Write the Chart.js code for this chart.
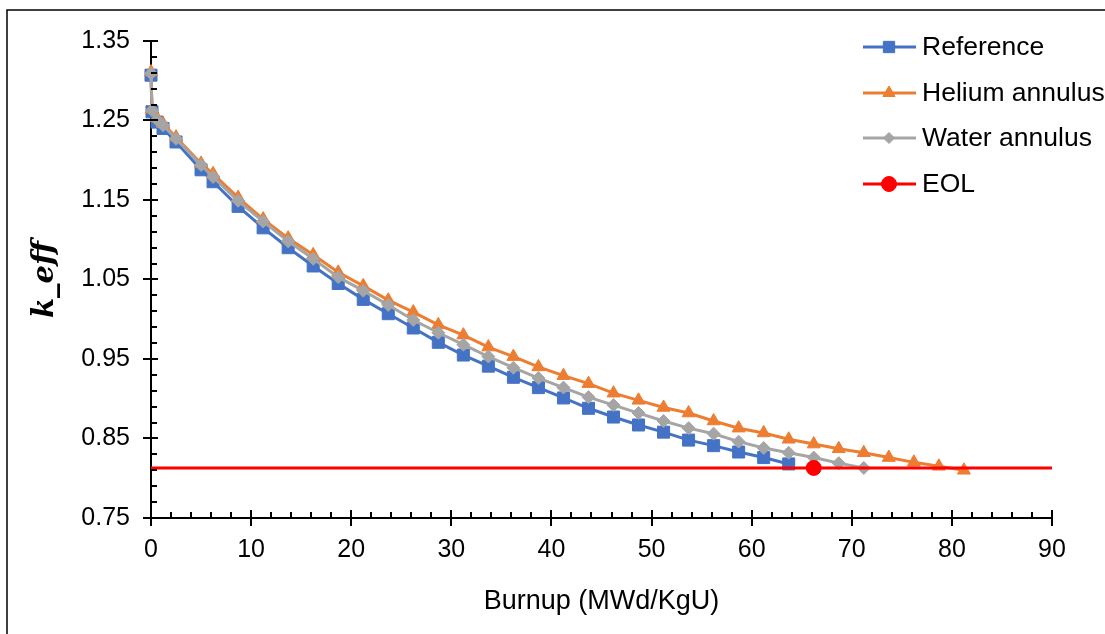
<!DOCTYPE html>
<html><head><meta charset="utf-8">
<script src="https://cdn.jsdelivr.net/npm/chart.js@4.4.1/dist/chart.umd.min.js"></script>
<style>html,body{margin:0;padding:0;background:#fff;}#wrap{width:1105px;height:634px;}</style>
</head><body><div id="wrap"><canvas id="c" width="1105" height="634"></canvas></div>
<script>
const burnup = [0, 0.1, 0.6, 1.2, 2.5, 5, 6.2, 8.7, 11.2, 13.7, 16.2, 18.7, 21.2, 23.7, 26.2, 28.7, 31.2, 33.7, 36.2, 38.7, 41.2, 43.7, 46.2, 48.7, 51.2, 53.7, 56.2, 58.7, 61.2, 63.7, 66.2, 68.7, 71.2, 73.7, 76.2, 78.7, 81.2];
const reference = [1.307, 1.261, 1.248, 1.240, 1.223, 1.188, 1.173, 1.142, 1.115, 1.090, 1.067, 1.045, 1.025, 1.007, 0.989, 0.971, 0.955, 0.941, 0.927, 0.914, 0.901, 0.888, 0.877, 0.867, 0.858, 0.848, 0.841, 0.833, 0.826, 0.818];
const helium = [1.311, 1.264, 1.253, 1.246, 1.229, 1.196, 1.183, 1.153, 1.126, 1.102, 1.081, 1.059, 1.042, 1.024, 1.009, 0.993, 0.980, 0.965, 0.953, 0.940, 0.929, 0.919, 0.907, 0.898, 0.889, 0.882, 0.872, 0.863, 0.857, 0.849, 0.843, 0.837, 0.832, 0.826, 0.820, 0.815, 0.810];
const water = [1.309, 1.263, 1.251, 1.244, 1.227, 1.194, 1.179, 1.149, 1.123, 1.098, 1.076, 1.053, 1.036, 1.018, 0.999, 0.983, 0.968, 0.953, 0.939, 0.926, 0.914, 0.902, 0.892, 0.882, 0.872, 0.863, 0.856, 0.846, 0.838, 0.832, 0.826, 0.819, 0.813];
const eolBurnup = [0, 66.2, 90];
const eolK = [0.813, 0.813, 0.813];
const eolMarker = [false, true, false];
const xTicks = [0, 10, 20, 30, 40, 50, 60, 70, 80, 90];
const yTicks = [0.75, 0.85, 0.95, 1.05, 1.15, 1.25, 1.35];
const xMinorStep = 2;
const yMinorStep = 0.02;
const seriesNames = ['Reference', 'Helium annulus', 'Water annulus', 'EOL'];

const pairs = (xs, ys) => ys.map((y, i) => ({x: xs[i], y: y}));
const FONT = "'Liberation Sans', Arial, sans-serif";

const extras = {
  id: 'extras',
  beforeDraw(chart) {
    const ctx = chart.ctx;
    ctx.save();
    ctx.fillStyle = '#fff';
    ctx.fillRect(0, 0, chart.width, chart.height);
    ctx.strokeStyle = '#000';
    ctx.lineWidth = 1.5;
    ctx.beginPath();
    ctx.moveTo(7, chart.height);
    ctx.lineTo(7, 10);
    ctx.lineTo(chart.width, 10);
    ctx.stroke();
    ctx.restore();
  },
  afterDatasetsDraw(chart) {
    const ctx = chart.ctx;
    const xs = chart.scales.x, ys = chart.scales.y;
    const a = chart.chartArea;
    ctx.save();
    ctx.strokeStyle = '#000';
    ctx.lineWidth = 2;
    ctx.beginPath();
    for (let v = ys.min; v <= ys.max + 1e-9; v += yMinorStep) {
      const p = Math.round(ys.getPixelForValue(v));
      const major = yTicks.some(t => Math.abs(t - v) < 1e-6);
      if (major) { ctx.moveTo(a.left - 8, p); ctx.lineTo(a.left + 7, p); }
      else { ctx.moveTo(a.left, p); ctx.lineTo(a.left + 6, p); }
    }
    for (let v = xs.min; v <= xs.max + 1e-9; v += xMinorStep) {
      const p = Math.round(xs.getPixelForValue(v));
      const major = xTicks.some(t => Math.abs(t - v) < 1e-6);
      if (major) { ctx.moveTo(p, a.bottom - 8); ctx.lineTo(p, a.bottom + 8); }
      else { ctx.moveTo(p, a.bottom); ctx.lineTo(p, a.bottom - 6); }
    }
    ctx.stroke();
    ctx.restore();
  },
  afterDraw(chart) {
    const ctx = chart.ctx;
    const rows = [47, 93, 138, 184];
    const x0 = 863, x1 = 916, xm = 889, tx = 922;
    ctx.save();
    chart.data.datasets.forEach((ds, i) => {
      const y = rows[i];
      ctx.strokeStyle = ds.borderColor;
      ctx.lineWidth = ds.borderWidth;
      ctx.beginPath(); ctx.moveTo(x0, y); ctx.lineTo(x1, y); ctx.stroke();
      ctx.fillStyle = ds.backgroundColor;
      ctx.strokeStyle = ds.backgroundColor;
      ctx.lineWidth = 1;
      Chart.helpers.drawPoint(ctx, {pointStyle: ds.pointStyle, radius: ds.legendRadius, rotation: 0, borderWidth: 1}, xm, y);
      ctx.fillStyle = '#000';
      ctx.font = '26.5px ' + FONT;
      ctx.textBaseline = 'middle';
      ctx.textAlign = 'left';
      ctx.fillText(ds.label, tx, y + 1);
    });
    ctx.restore();
  }
};

new Chart(document.getElementById('c'), {
  type: 'line',
  data: {
    datasets: [
      {label: seriesNames[0], data: pairs(burnup, reference), borderColor: '#4472C4', backgroundColor: '#4472C4', borderWidth: 3, pointStyle: 'rect', pointRadius: 8.5, pointBorderWidth: 1, legendRadius: 8, order: 4, clip: false},
      {label: seriesNames[1], data: pairs(burnup, helium), borderColor: '#ED7D31', backgroundColor: '#ED7D31', borderWidth: 3, pointStyle: 'triangle', pointRadius: 7.5, pointBorderWidth: 1, legendRadius: 7, order: 3, clip: false},
      {label: seriesNames[2], data: pairs(burnup, water), borderColor: '#A5A5A5', backgroundColor: '#A5A5A5', borderWidth: 3, pointStyle: 'rectRot', pointRadius: 6.5, pointBorderWidth: 1, legendRadius: 5.5, order: 2, clip: false},
      {label: seriesNames[3], data: pairs(eolBurnup, eolK), borderColor: '#FF0000', backgroundColor: '#FF0000', borderWidth: 3, pointStyle: 'circle', pointRadius: eolMarker.map(m => m ? 7.5 : 0), pointBorderWidth: 1, legendRadius: 7.5, order: 1, clip: false}
    ]
  },
  options: {
    responsive: false,
    animation: false,
    devicePixelRatio: 1,
    layout: {padding: {left: 0, right: 53, top: 41, bottom: 0}},
    plugins: {legend: {display: false}, tooltip: {enabled: false}},
    elements: {line: {tension: 0}},
    scales: {
      x: {
        type: 'linear', min: 0, max: 90,
        afterBuildTicks: s => { s.ticks = xTicks.map(v => ({value: v})); },
        afterFit: s => { s.height = 116; },
        grid: {display: false, drawTicks: false},
        border: {display: true, color: '#000', width: 2},
        ticks: {font: {family: FONT, size: 25}, color: '#000', padding: 17, maxRotation: 0},
        title: {display: true, text: 'Burnup (MWd/KgU)', font: {family: FONT, size: 27}, color: '#000', padding: {top: 0, bottom: 16}}
      },
      y: {
        type: 'linear', min: 0.75, max: 1.35,
        afterBuildTicks: s => { s.ticks = yTicks.map(v => ({value: v})); },
        afterFit: s => { s.width = 151; },
        grid: {display: false, drawTicks: false},
        border: {display: true, color: '#000', width: 2},
        ticks: {font: {family: FONT, size: 25}, color: '#000', padding: 21, callback: v => Number(v).toFixed(2)},
        title: {display: true, text: 'k_eff', font: {family: "'DejaVu Serif', serif", size: 29, style: 'italic', weight: 'bold'}, color: '#000', padding: {top: 28, bottom: 0}}
      }
    }
  },
  plugins: [extras]
});
</script></body></html>
